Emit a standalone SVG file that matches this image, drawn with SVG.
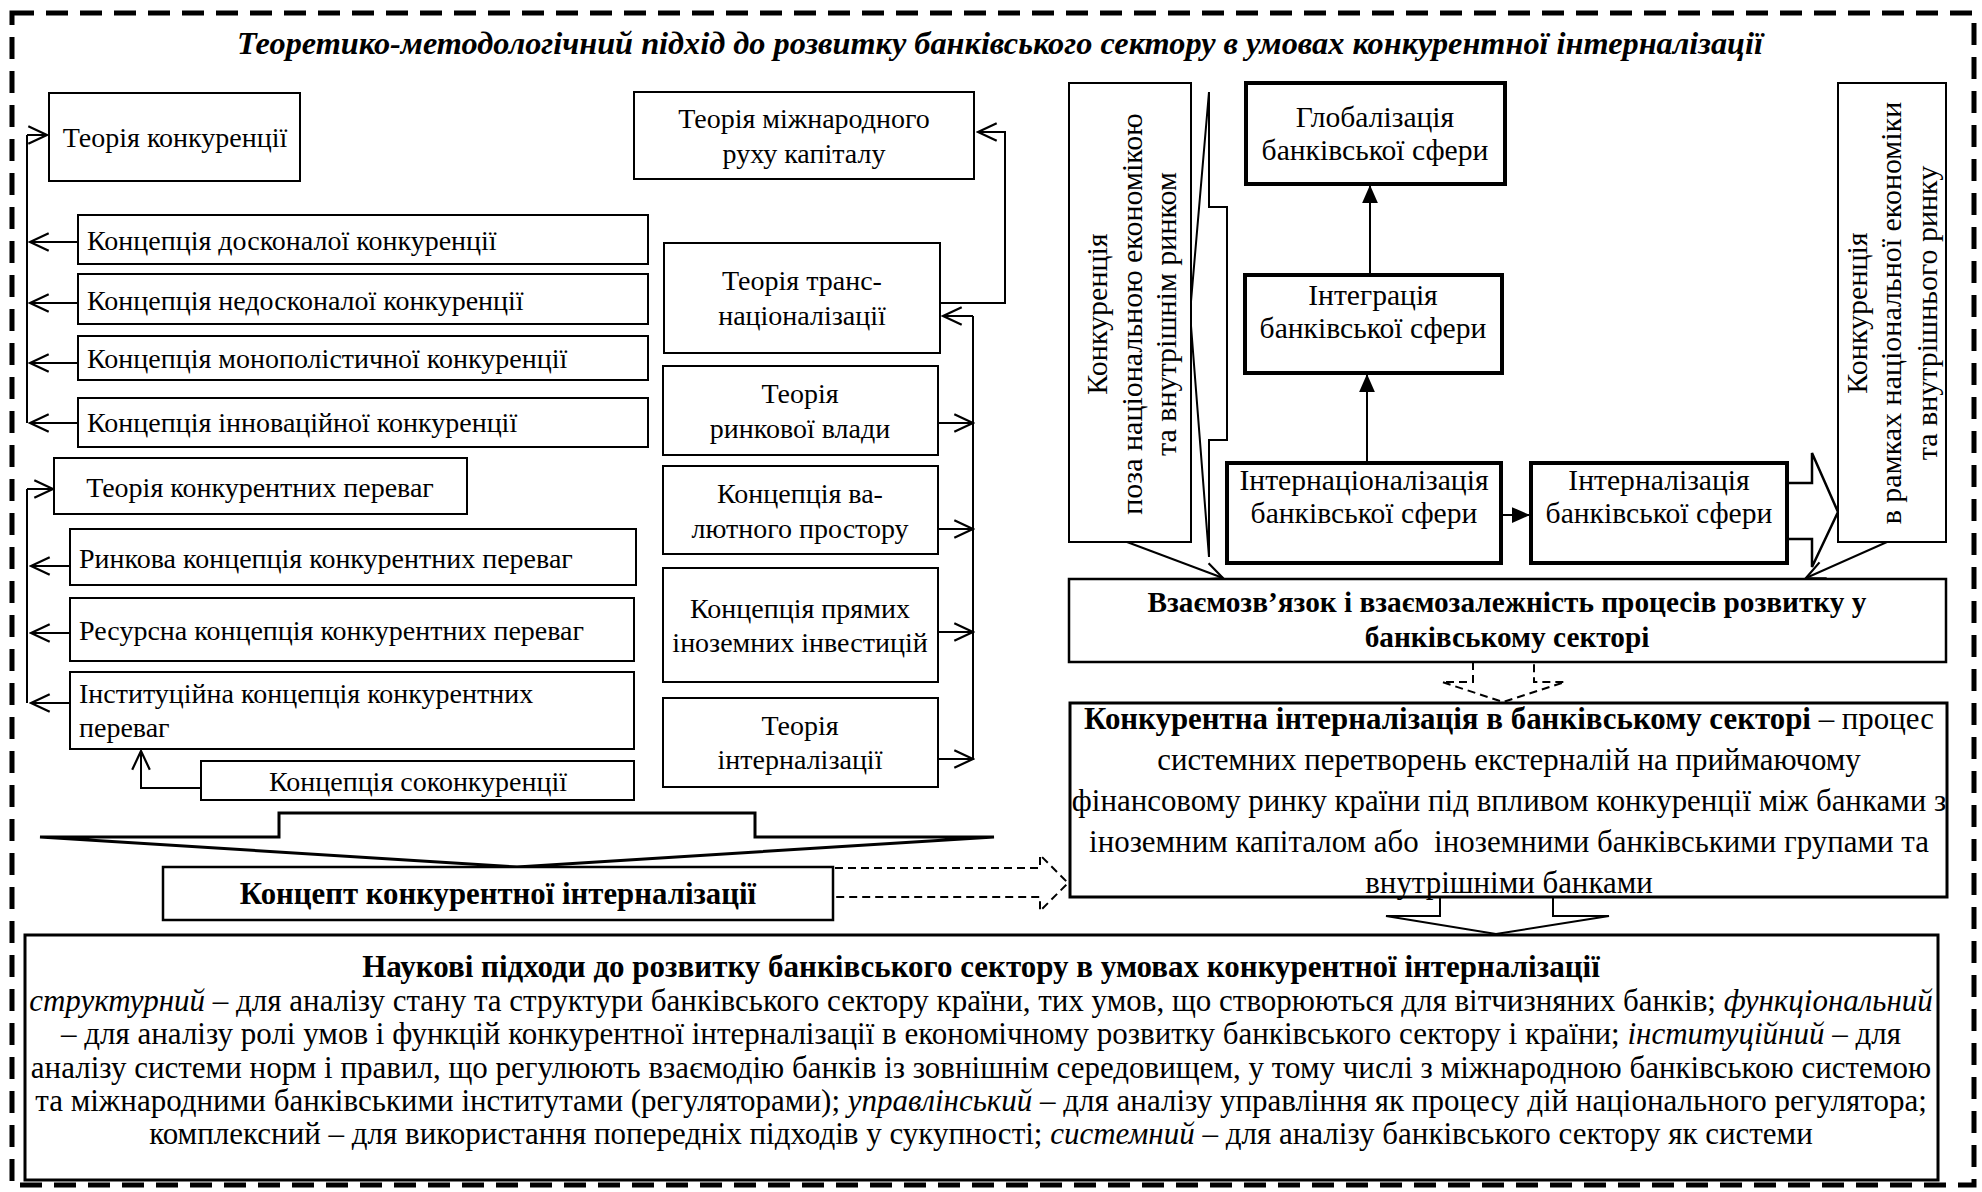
<svg xmlns="http://www.w3.org/2000/svg" width="1982" height="1192" viewBox="0 0 1982 1192">
<style>
.box{fill:#fff;stroke:#000;stroke-width:2}
.thick{stroke-width:4}
.t{font-family:"Liberation Serif","Times New Roman",serif;font-size:28px;fill:#000}
.r{font-size:29.6px}
.c{text-anchor:middle}
.b{font-weight:bold}
.i{font-style:italic}
.ln{fill:none;stroke:#000;stroke-width:2}
.blk{fill:#fff;stroke:#000;stroke-width:2.5;stroke-linejoin:miter}
.dsh{fill:#fff;stroke:#000;stroke-width:2;stroke-dasharray:8 5}
.ao{marker-end:url(#ao)}
.af{marker-end:url(#af)}
</style>
<defs>
<marker id="ao" markerUnits="userSpaceOnUse" markerWidth="22" markerHeight="22" viewBox="0 0 20 20" refX="18" refY="9" orient="auto"><path d="M1,1 L18,9 L1,17" fill="none" stroke="#000" stroke-width="2"/></marker>
<marker id="af" markerUnits="userSpaceOnUse" markerWidth="18" markerHeight="16" viewBox="0 0 16 14" refX="16" refY="7" orient="auto"><path d="M0,0 L16,7 L0,14 Z" fill="#000"/></marker>
</defs>
<rect width="1982" height="1192" fill="#fff"/>
<rect x="12" y="13" width="1962" height="1172" fill="none" stroke="#000" stroke-width="5" stroke-dasharray="22 12"/>
<text id="title" x="1000" y="54" class="t c b i" style="font-size:32.3px">Теоретико-методологічний підхід до розвитку банківського сектору в умовах конкурентної інтерналізації</text>

<g id="connectors">
<path class="ln" d="M27,135 L27,423"/>
<path class="ln ao" d="M27,135 L47,135"/>
<path class="ln ao" d="M78,242 L30,242"/>
<path class="ln ao" d="M78,303 L30,303"/>
<path class="ln ao" d="M78,363 L30,363"/>
<path class="ln ao" d="M78,423 L30,423"/>
<path class="ln" d="M27,489 L27,703"/>
<path class="ln ao" d="M27,489 L53,489"/>
<path class="ln ao" d="M70,566 L31,566"/>
<path class="ln ao" d="M70,633 L31,633"/>
<path class="ln ao" d="M70,703 L31,703"/>
<path class="ln ao" d="M201,788 L141,788 L141,751"/>
<path class="ln" d="M973,316 L973,760"/>
<path class="ln ao" d="M973,316 L943,316"/>
<path class="ln ao" d="M938,423 L973,423"/>
<path class="ln ao" d="M938,529 L973,529"/>
<path class="ln ao" d="M938,632 L973,632"/>
<path class="ln ao" d="M938,759 L973,759"/>
<path class="ln ao" d="M940,303 L1005,303 L1005,132 L978,132"/>
<path class="ln af" d="M1370,275 L1370,185"/>
<path class="ln af" d="M1367,463 L1367,374"/>
<path class="ln af" d="M1501,515 L1530,515"/>
<path class="blk" style="stroke-width:2" d="M1190,313 L1209,92 L1209,207 L1227,207 L1227,440 L1209,440 L1209,557 Z"/>
<path class="ln ao" d="M1127,542 L1223,578"/>
<path class="ln ao" d="M1887,542 L1806,578"/>
<path class="blk" d="M1787,483 L1812,483 L1812,453 L1838,512 L1812,567 L1812,539 L1787,539"/>
<path class="dsh" d="M1473,662 L1473,682 L1442,682 L1503,702 L1565,682 L1534,682 L1534,662 Z"/>
<path class="blk" style="stroke-width:2" d="M1440,897 L1440,916 L1386,916 L1496,934 L1609,916 L1553,916 L1553,897"/>
<path class="blk" style="stroke-width:3" d="M279,837 L279,813 L755,813 L755,837 L994,837 L517,867 L40,837 Z"/>
<path class="dsh" d="M835,868 L1040,868 L1040,855 L1068,883 L1040,911 L1040,897 L835,897"/>
</g>

<g id="n1"><rect class="box" x="49" y="93" width="251" height="88"/><text class="t c" x="175" y="147">Теорія конкуренції</text></g>
<g id="n2"><rect class="box" x="78" y="215" width="570" height="49"/><text class="t" x="87" y="250">Концепція досконалої конкуренції</text></g>
<g id="n3"><rect class="box" x="78" y="274" width="570" height="50"/><text class="t" x="87" y="310">Концепція недосконалої конкуренції</text></g>
<g id="n4"><rect class="box" x="78" y="336" width="570" height="44"/><text class="t" x="87" y="368">Концепція монополістичної конкуренції</text></g>
<g id="n5"><rect class="box" x="78" y="398" width="570" height="49"/><text class="t" x="87" y="432">Концепція інноваційної конкуренції</text></g>
<g id="n6"><rect class="box" x="54" y="458" width="413" height="56"/><text class="t c" x="260" y="497">Теорія конкурентних переваг</text></g>
<g id="n7"><rect class="box" x="70" y="529" width="566" height="56"/><text class="t" x="79" y="568">Ринкова концепція конкурентних переваг</text></g>
<g id="n8"><rect class="box" x="70" y="598" width="564" height="63"/><text class="t" x="79" y="640">Ресурсна концепція конкурентних переваг</text></g>
<g id="n9"><rect class="box" x="70" y="672" width="564" height="77"/><text class="t" x="79" y="703">Інституційна концепція конкурентних</text><text class="t" x="79" y="737">переваг</text></g>
<g id="n10"><rect class="box" x="201" y="761" width="433" height="39"/><text class="t c" x="418" y="791">Концепція соконкуренції</text></g>

<g id="m1"><rect class="box" x="634" y="92" width="340" height="87"/><text class="t c" x="804" y="128">Теорія міжнародного</text><text class="t c" x="804" y="163">руху капіталу</text></g>
<g id="m2"><rect class="box" x="664" y="243" width="276" height="110"/><text class="t c" x="802" y="290">Теорія транс-</text><text class="t c" x="802" y="325">націоналізації</text></g>
<g id="m3"><rect class="box" x="663" y="366" width="275" height="89"/><text class="t c" x="800" y="403">Теорія</text><text class="t c" x="800" y="438">ринкової влади</text></g>
<g id="m4"><rect class="box" x="663" y="466" width="275" height="88"/><text class="t c" x="800" y="503">Концепція ва-</text><text class="t c" x="800" y="538">лютного простору</text></g>
<g id="m5"><rect class="box" x="663" y="568" width="275" height="114"/><text class="t c" x="800" y="618">Концепція прямих</text><text class="t c" x="800" y="652">іноземних інвестицій</text></g>
<g id="m6"><rect class="box" x="663" y="698" width="275" height="89"/><text class="t c" x="800" y="735">Теорія</text><text class="t c" x="800" y="769">інтерналізації</text></g>

<g id="r1"><rect class="box" x="1069" y="83" width="122" height="459"/>
<text class="t c" style="font-size:30px" transform="translate(1107,314) rotate(-90)">Конкуренція</text>
<text class="t c" style="font-size:30px" transform="translate(1142,314) rotate(-90)">поза національною економікою</text>
<text class="t c" style="font-size:30px" transform="translate(1176,314) rotate(-90)">та внутрішнім ринком</text></g>
<g id="r2"><rect class="box thick" x="1246" y="83" width="259" height="101"/><text class="t r c" x="1375" y="127">Глобалізація</text><text class="t r c" x="1375" y="160">банківської сфери</text></g>
<g id="r3"><rect class="box thick" x="1245" y="275" width="257" height="98"/><text class="t r c" x="1373" y="305">Інтеграція</text><text class="t r c" x="1373" y="338">банківської сфери</text></g>
<g id="r4"><rect class="box thick" x="1227" y="463" width="274" height="100"/><text class="t r c" x="1364" y="490">Інтернаціоналізація</text><text class="t r c" x="1364" y="523">банківської сфери</text></g>
<g id="r5"><rect class="box thick" x="1531" y="463" width="256" height="100"/><text class="t r c" x="1659" y="490">Інтерналізація</text><text class="t r c" x="1659" y="523">банківської сфери</text></g>
<g id="r6"><rect class="box" x="1838" y="83" width="108" height="459"/>
<text class="t c" style="font-size:30px" transform="translate(1867,313) rotate(-90)">Конкуренція</text>
<text class="t c" style="font-size:30px" transform="translate(1901,313) rotate(-90)">в рамках національної економіки</text>
<text class="t c" style="font-size:30px" transform="translate(1937,313) rotate(-90)">та внутрішнього ринку</text></g>
<g id="r7"><rect class="box" style="stroke-width:2.5" x="1069" y="579" width="877" height="83"/><text class="t c b" style="font-size:29.3px" x="1507" y="612">Взаємозв’язок і взаємозалежність процесів розвитку у</text><text class="t c b" style="font-size:29.3px" x="1507" y="647">банківському секторі</text></g>
<g id="r8"><rect class="box" style="stroke-width:3" x="1070" y="703" width="877" height="194"/>
<text class="t c" style="font-size:30.9px" x="1509" y="729"><tspan class="b">Конкурентна інтерналізація в банківському секторі</tspan> – процес</text>
<text class="t c" style="font-size:30.9px" x="1509" y="770">системних перетворень екстерналій на приймаючому</text>
<text class="t c" style="font-size:30.9px" x="1509" y="811">фінансовому ринку країни під впливом конкуренції між банками з</text>
<text class="t c" style="font-size:30.9px" x="1509" y="852">іноземним капіталом або &#160;іноземними банківськими групами та</text>
<text class="t c" style="font-size:30.9px" x="1509" y="893">внутрішніми банками</text></g>
<g id="b1"><rect class="box" style="stroke-width:2.5" x="163" y="867" width="670" height="53"/><text class="t c b" style="font-size:30.8px" x="498" y="904">Концепт конкурентної інтерналізації</text></g>
<g id="b2"><rect class="box" style="stroke-width:3" x="25" y="935" width="1913" height="245"/>
<text class="t c b" style="font-size:31px" x="981" y="977">Наукові підходи до розвитку банківського сектору в умовах конкурентної інтерналізації</text>
<text class="t c" style="font-size:31px" x="981" y="1011"><tspan class="i">структурний</tspan> – для аналізу стану та структури банківського сектору країни, тих умов, що створюються для вітчизняних банків; <tspan class="i">функціональний</tspan></text>
<text class="t c" style="font-size:31px" x="981" y="1044">– для аналізу ролі умов і функцій конкурентної інтерналізації в економічному розвитку банківського сектору і країни; <tspan class="i">інституційний</tspan> – для</text>
<text class="t c" style="font-size:31px" x="981" y="1078">аналізу системи норм і правил, що регулюють взаємодію банків із зовнішнім середовищем, у тому числі з міжнародною банківською системою</text>
<text class="t c" style="font-size:31px" x="981" y="1111">та міжнародними банківськими інститутами (регуляторами); <tspan class="i">управлінський</tspan> – для аналізу управління як процесу дій національного регулятора;</text>
<text class="t c" style="font-size:31px" x="981" y="1144">комплексний – для використання попередніх підходів у сукупності; <tspan class="i">системний</tspan> – для аналізу банківського сектору як системи</text></g>
</svg>
